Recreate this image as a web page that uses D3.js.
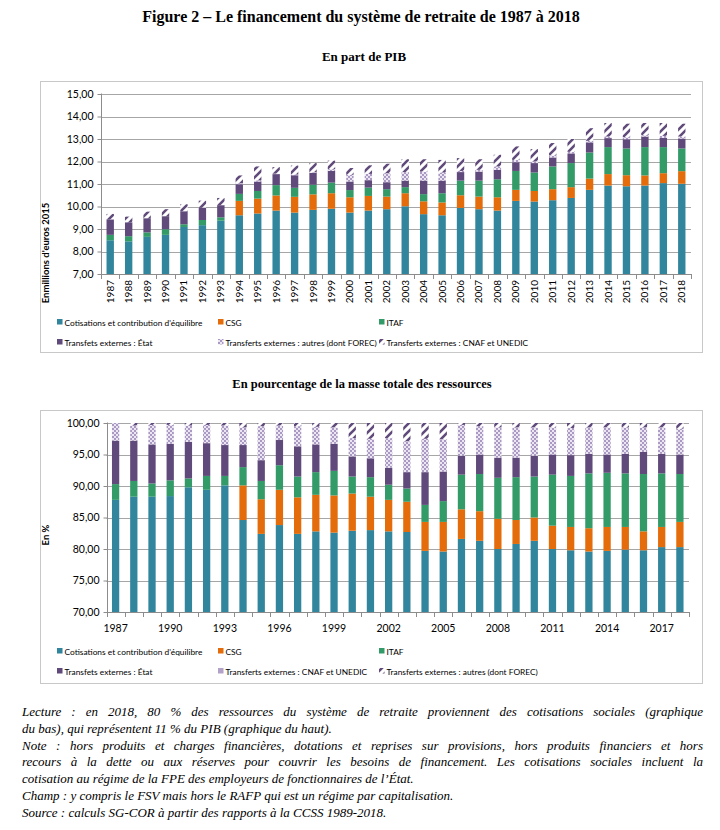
<!DOCTYPE html>
<html>
<head>
<meta charset="utf-8">
<script src="https://cdn.jsdelivr.net/npm/d3@7"></script>
<style>
body { margin: 0; background: #fff; }
#wrap { position: relative; width: 720px; height: 830px; }
#notes { position: absolute; left: 22px; top: 704px; width: 681px; font: italic 13px "Liberation Serif", serif; color: #000; }
#notes div { line-height: 16.8px; white-space: nowrap; }
#notes div.j { text-align: justify; text-align-last: justify; white-space: normal; }
</style>
</head>
<body>
<div id="wrap">
<svg id="chart" width="720" height="830"></svg>
<div id="notes">
<div class="j">Lecture : en 2018, 80 % des ressources du système de retraite proviennent des cotisations sociales (graphique</div>
<div>du bas), qui représentent 11 % du PIB (graphique du haut).</div>
<div class="j">Note : hors produits et charges financières, dotations et reprises sur provisions, hors produits financiers et hors</div>
<div class="j">recours à la dette ou aux réserves pour couvrir les besoins de financement. Les cotisations sociales incluent la</div>
<div>cotisation au régime de la FPE des employeurs de fonctionnaires de l’État.</div>
<div>Champ : y compris le FSV mais hors le RAFP qui est un régime par capitalisation.</div>
<div>Source : calculs SG-COR à partir des rapports à la CCSS 1989-2018.</div>
</div>
</div>
<script>
// Categories
const years = ["1987","1988","1989","1990","1991","1992","1993","1994","1995","1996","1997","1998","1999","2000","2001","2002","2003","2004","2005","2006","2007","2008","2009","2010","2011","2012","2013","2014","2015","2016","2017","2018"];

// Top chart : en part de PIB
const pibCotisations = [8.50,8.45,8.65,8.74,9.09,9.17,9.37,9.61,9.69,9.82,9.73,9.85,9.90,9.73,9.82,9.88,10.01,9.66,9.61,9.94,9.88,9.82,10.25,10.22,10.28,10.38,10.74,10.93,10.90,10.93,11.04,11.01];
const pibCSG = [0,0,0,0,0,0,0,0.64,0.66,0.67,0.70,0.69,0.69,0.68,0.65,0.56,0.58,0.57,0.57,0.56,0.56,0.59,0.49,0.47,0.49,0.48,0.50,0.51,0.49,0.45,0.44,0.56];
const pibITAF = [0.24,0.23,0.20,0.25,0.12,0.23,0.15,0.31,0.34,0.46,0.40,0.43,0.47,0.32,0.37,0.33,0.27,0.32,0.41,0.65,0.71,0.80,0.84,0.82,1.01,1.07,1.16,1.20,1.19,1.26,1.16,1.01];
const pibEtat = [0.69,0.62,0.63,0.58,0.58,0.55,0.54,0.43,0.42,0.49,0.56,0.52,0.52,0.38,0.33,0.31,0.29,0.60,0.56,0.38,0.40,0.42,0.39,0.42,0.40,0.43,0.45,0.40,0.41,0.47,0.41,0.44];
const pibAutres = [0,0,0,0,0,0,0,0.04,0.05,0.02,0.03,0.03,0.08,0.30,0.28,0.40,0.38,0.40,0.36,0.05,0.08,0.15,0.10,0.07,0.09,0.07,0.07,0.07,0.09,0.06,0.09,0.09];
const pibCNAF = [0.24,0.25,0.29,0.31,0.31,0.31,0.32,0.35,0.62,0.29,0.40,0.41,0.38,0.30,0.38,0.42,0.57,0.55,0.56,0.57,0.47,0.52,0.60,0.55,0.55,0.57,0.56,0.60,0.60,0.54,0.57,0.57];
const pibTicks = [7,8,9,10,11,12,13,14,15];

// Bottom chart : en % de la masse totale des ressources
const pctCotisations = [87.8,88.3,88.3,88.4,89.8,89.4,90.1,84.6,82.4,83.8,82.4,82.8,82.6,82.9,83.0,82.8,82.7,79.7,79.6,81.6,81.3,80.0,80.8,81.3,80.0,79.8,79.6,79.7,79.9,79.8,80.3,80.3];
const pctCSG = [0,0,0,0,0,0,0,5.5,5.5,5.6,5.8,5.8,5.9,5.9,5.3,5.0,4.8,4.6,4.7,4.7,4.7,4.8,3.8,3.7,3.7,3.7,3.7,3.8,3.6,3.0,3.2,4.0];
const pctITAF = [2.5,2.5,2.1,2.5,1.4,2.2,1.5,2.9,2.9,3.9,3.3,3.6,3.9,2.7,3.1,2.4,2.1,2.7,3.3,5.5,5.9,6.5,6.8,6.5,8.1,8.1,8.7,8.6,8.5,9.1,8.5,7.6];
const pctEtat = [6.9,6.4,6.2,5.8,5.8,5.2,4.9,3.5,3.3,4.0,4.8,4.4,4.3,3.2,3.0,2.7,2.6,5.2,4.7,3.0,3.1,3.2,3.1,3.3,3.2,3.3,3.1,2.9,3.1,3.5,3.1,3.1];
const pctCNAF = [2.8,2.4,3.1,3.0,2.6,2.9,3.1,2.8,5.4,2.3,3.2,2.8,2.6,2.9,3.1,4.7,4.9,5.3,5.1,4.9,4.5,4.8,4.8,4.5,4.3,4.3,4.2,4.3,4.2,3.9,4.2,4.1];
const pctAutres = [0,0.4,0.3,0.3,0.4,0.3,0.4,0.7,0.5,0.4,0.5,0.6,0.7,2.4,2.5,2.4,2.9,2.5,2.6,0.3,0.5,0.7,0.7,0.7,0.7,0.8,0.7,0.7,0.7,0.7,0.7,0.9];
const pctTicks = [70,75,80,85,90,95,100];
const pctLabelYears = ["1987","1990","1993","1996","1999","2002","2005","2008","2011","2014","2017"];

// Colours
const teal = "#31859c", orange = "#e46c0a", green = "#339b68", purple = "#604a7b", lavender = "#b3a2c7";
const font = "Lato, 'Open Sans', sans-serif";
const legendFont = `8.35px ${font}`;
const fr = d3.formatLocale({decimal: ",", thousands: " ", grouping: [3], currency: ["", " €"]});
const fmt = fr.format(".2f");

const svg = d3.select("#chart");
svg.append("rect").attr("width", 720).attr("height", 830).attr("fill", "#fff");

// Patterns
const defs = svg.append("defs");
const hatch = defs.append("pattern").attr("id", "hatch").attr("patternUnits", "userSpaceOnUse")
    .attr("width", 8).attr("height", 8);
hatch.append("rect").attr("width", 8).attr("height", 8).attr("fill", "#fff");
hatch.append("path").attr("d", "M-2,2 L2,-2 M0,8 L8,0 M6,10 L10,6")
    .attr("stroke", purple).attr("stroke-width", 2.6);
const check = defs.append("pattern").attr("id", "check").attr("patternUnits", "userSpaceOnUse")
    .attr("width", 4).attr("height", 4);
check.append("rect").attr("width", 4).attr("height", 4).attr("fill", "#ebe6f1");
check.append("rect").attr("width", 2).attr("height", 2).attr("fill", "#a999c3");
check.append("rect").attr("x", 2).attr("y", 2).attr("width", 2).attr("height", 2).attr("fill", "#a999c3");

// Titles
svg.append("text").attr("x", 361).attr("y", 22).attr("text-anchor", "middle")
    .style("font", "bold 16px 'Liberation Serif', serif")
    .text("Figure 2 – Le financement du système de retraite de 1987 à 2018");
svg.append("text").attr("x", 364).attr("y", 61).attr("text-anchor", "middle")
    .style("font", "bold 13px 'Liberation Serif', serif").text("En part de PIB");
svg.append("text").attr("x", 362).attr("y", 388).attr("text-anchor", "middle")
    .style("font", "bold 12.5px 'Liberation Serif', serif").text("En pourcentage de la masse totale des ressources");

function drawChart(o) {
    const g = svg.append("g");
    // frame
    g.append("rect").attr("x", 40.5).attr("y", o.boxTop + 0.5).attr("width", 662).attr("height", o.boxH)
        .attr("fill", "none").attr("stroke", "#c8c8c8");

    const x = d3.scaleBand().domain(years).range([o.left, o.right]).paddingInner(0.6).paddingOuter(0.3);
    const y = d3.scaleLinear().domain(o.domain).range([o.bottom, o.top]).clamp(true);

    // gridlines
    g.append("g").selectAll("line").data(o.ticks.slice(1)).join("line")
        .attr("x1", o.left).attr("x2", o.right)
        .attr("y1", d => Math.round(y(d)) + 0.5).attr("y2", d => Math.round(y(d)) + 0.5)
        .attr("stroke", "#a6a6a6");

    // stacked bars
    const rows = years.map((yr, i) => {
        const r = {year: yr};
        o.keys.forEach((k, j) => r[k] = o.series[j][i]);
        return r;
    });
    const stacked = d3.stack().keys(o.keys)(rows);
    g.append("g").selectAll("g").data(stacked).join("g")
        .attr("fill", (d, i) => o.fills[i])
        .selectAll("rect").data(d => d).join("rect")
        .attr("x", d => x(d.data.year))
        .attr("width", x.bandwidth())
        .attr("y", d => y(d[1]))
        .attr("height", d => Math.max(0, y(d[0]) - y(d[1])));

    // y axis
    const ya = g.append("g").attr("transform", `translate(${Math.round(o.left) + 0.5},0)`)
        .call(d3.axisLeft(y).tickValues(o.ticks).tickFormat(fmt).tickSize(4).tickPadding(4));
    ya.select(".domain").attr("stroke", "#8c8c8c").attr("d", `M0,${o.bottom}V${o.top - 0.5}`);
    ya.selectAll(".tick line").attr("stroke", "#8c8c8c");
    ya.selectAll(".tick text").style("font", `10.5px ${font}`).attr("fill", "#000");

    // x axis line and boundary ticks
    const step = x.step();
    const bounds = years.map(yr => x(yr) - step * 0.3).concat([x(years[years.length - 1]) + step * 0.7]);
    g.append("line").attr("x1", o.left).attr("x2", o.right)
        .attr("y1", Math.round(o.bottom) + 0.5).attr("y2", Math.round(o.bottom) + 0.5).attr("stroke", "#8c8c8c");
    g.append("g").selectAll("line").data(bounds).join("line")
        .attr("x1", d => Math.round(d) + 0.5).attr("x2", d => Math.round(d) + 0.5)
        .attr("y1", Math.round(o.bottom)).attr("y2", Math.round(o.bottom) + 5)
        .attr("stroke", "#8c8c8c");

    // x labels
    if (o.rotate) {
        g.append("g").selectAll("text").data(years).join("text")
            .attr("transform", d => `translate(${x(d) + x.bandwidth() / 2 + 3.5},${o.bottom + 6}) rotate(-90)`)
            .attr("text-anchor", "end")
            .style("font", `10px ${font}`).text(d => d);
    } else {
        g.append("g").selectAll("text").data(o.labelYears).join("text")
            .attr("x", d => x(d) + x.bandwidth() / 2).attr("y", o.bottom + 20)
            .attr("text-anchor", "middle")
            .style("font", `10.5px ${font}`).text(d => d);
    }

    // y title
    g.append("text").attr("transform", `translate(49,${o.yTitleY}) rotate(-90)`)
        .attr("text-anchor", "middle")
        .style("font", `bold 9.5px ${font}`).text(o.yTitle);

    // legend
    const cols = [57, 218, 379];
    const items = g.append("g").selectAll("g").data(o.legend).join("g")
        .attr("transform", (d, i) => `translate(${cols[i % 3]},${o.legendY + Math.floor(i / 3) * 20})`);
    items.append("rect").attr("x", 0).attr("y", -3).attr("width", 5.5).attr("height", 5.5)
        .attr("fill", d => d.fill);
    items.append("text").attr("x", 7.5).attr("y", 3.5)
        .style("font", legendFont).text(d => d.label);
}

drawChart({
    boxTop: 81, boxH: 271,
    left: 101, right: 691, top: 94, bottom: 274,
    domain: [7, 15], ticks: pibTicks,
    keys: ["cot", "csg", "itaf", "etat", "autres", "cnaf"],
    series: [pibCotisations, pibCSG, pibITAF, pibEtat, pibAutres, pibCNAF],
    fills: [teal, orange, green, purple, "url(#check)", "url(#hatch)"],
    rotate: true,
    yTitle: "Enmillions d'euros 2015", yTitleY: 253,
    legendY: 322,
    legend: [
        {label: "Cotisations et contribution d'équilibre", fill: teal},
        {label: "CSG", fill: orange},
        {label: "ITAF", fill: green},
        {label: "Transfets externes : État", fill: purple},
        {label: "Transferts externes : autres (dont FOREC)", fill: "url(#check)"},
        {label: "Transferts externes : CNAF et UNEDIC", fill: "url(#hatch)"}
    ]
});

drawChart({
    boxTop: 410, boxH: 273,
    left: 106.5, right: 689, top: 423, bottom: 612,
    domain: [70, 100], ticks: pctTicks,
    keys: ["cot", "csg", "itaf", "etat", "cnaf", "autres"],
    series: [pctCotisations, pctCSG, pctITAF, pctEtat, pctCNAF, pctAutres],
    fills: [teal, orange, green, purple, "url(#check)", "url(#hatch)"],
    rotate: false, labelYears: pctLabelYears,
    yTitle: "En %", yTitleY: 535,
    legendY: 651,
    legend: [
        {label: "Cotisations et contribution d'équilibre", fill: teal},
        {label: "CSG", fill: orange},
        {label: "ITAF", fill: green},
        {label: "Transfets externes : État", fill: purple},
        {label: "Transferts externes : CNAF et UNEDIC", fill: lavender},
        {label: "Transferts externes : autres (dont FOREC)", fill: "url(#hatch)"}
    ]
});
</script>
</body>
</html>
